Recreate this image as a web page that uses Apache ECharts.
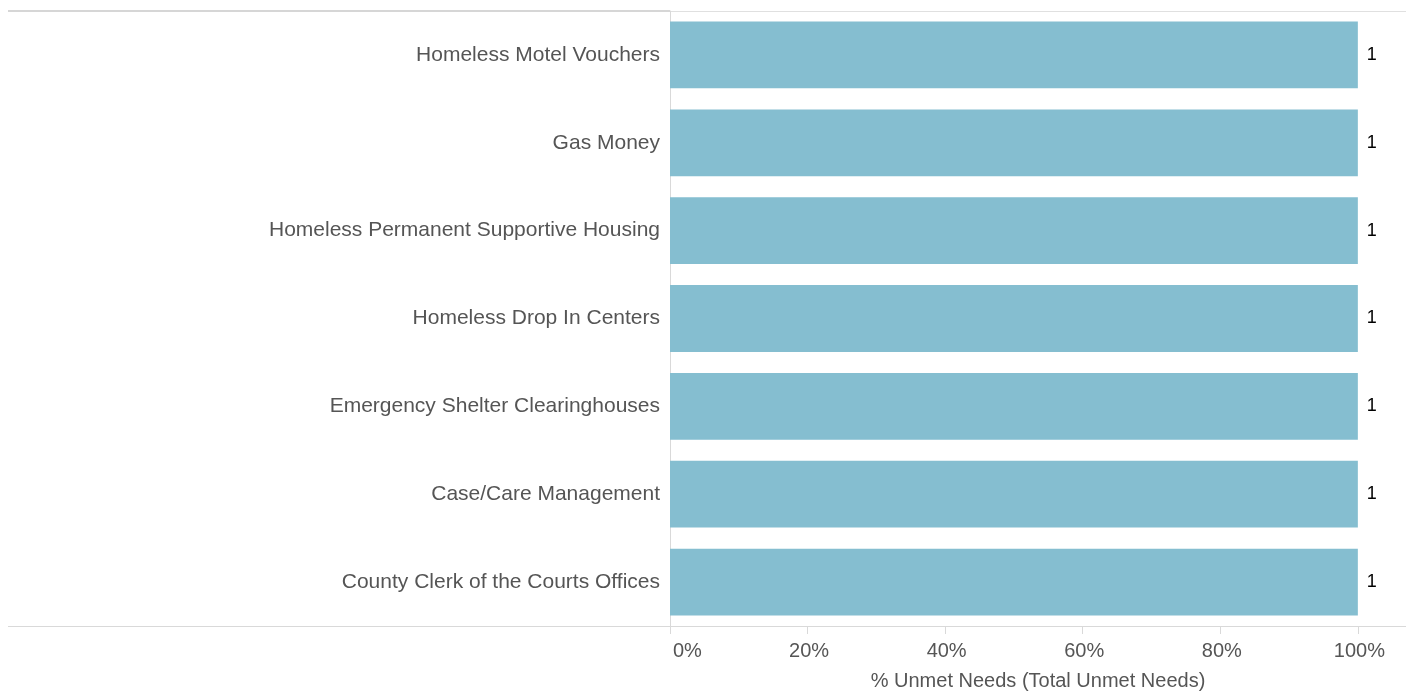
<!DOCTYPE html>
<html>
<head>
<meta charset="utf-8">
<script src="https://cdn.jsdelivr.net/npm/echarts@6/dist/echarts.min.js"></script>
<style>html,body{margin:0;padding:0;background:#fff}#c{width:1406px;height:691px}</style>
</head>
<body>
<div id="c"></div>
<script>
const categories = [
  "Homeless Motel Vouchers",
  "Gas Money",
  "Homeless Permanent Supportive Housing",
  "Homeless Drop In Centers",
  "Emergency Shelter Clearinghouses",
  "Case/Care Management",
  "County Clerk of the Courts Offices"
];
const pctUnmet = [1, 1, 1, 1, 1, 1, 1];
const unmetCounts = [1, 1, 1, 1, 1, 1, 1];
const tickValues = [0, 0.2, 0.4, 0.6, 0.8, 1.0];
const axisName = "% Unmet Needs (Total Unmet Needs)";

const chart = echarts.init(document.getElementById('c'));
const font = "'Liberation Sans', Arial, Helvetica, sans-serif";
chart.setOption({
  animation: false,
  grid: { left: 670, right: 0, top: 11, bottom: 65, containLabel: false, outerBoundsMode: 'none' },
  xAxis: {
    type: 'value', min: 0, max: 1.07,
    splitLine: { show: false },
    axisLine: { show: true, lineStyle: { color: '#d9d9d9', width: 1 } },
    axisTick: { show: true, customValues: tickValues, length: 8, lineStyle: { color: '#d9d9d9' } },
    axisLabel: { customValues: tickValues, alignMinLabel: 'left', formatter: v => Math.round(v * 100) + '%', color: '#555', fontSize: 20, fontFamily: font, margin: 15, padding: [0, 0, 0, 3] },
    name: axisName, nameLocation: 'middle', nameGap: 45,
    nameTextStyle: { color: '#555', fontSize: 20, fontFamily: font }
  },
  yAxis: {
    type: 'category', data: categories, inverse: true,
    axisLine: { show: true, lineStyle: { color: '#d9d9d9' } },
    axisTick: { show: false },
    axisLabel: { color: '#555', fontSize: 21, fontFamily: font, margin: 10 }
  },
  series: [{
    type: 'bar', data: pctUnmet, barCategoryGap: '24%',
    itemStyle: { color: '#85bed0' },
    label: { show: true, position: 'right', distance: 9, color: '#000', fontSize: 18, fontFamily: font,
      formatter: p => String(unmetCounts[p.dataIndex]) }
  }],
  graphic: [
    { type: 'line', shape: { x1: 8, y1: 11, x2: 670, y2: 11 }, style: { stroke: '#d6d6d6', lineWidth: 2 } },
    { type: 'line', shape: { x1: 670, y1: 11.5, x2: 1406, y2: 11.5 }, style: { stroke: '#e0e0e0', lineWidth: 1 } },
    { type: 'line', shape: { x1: 8, y1: 626.5, x2: 670, y2: 626.5 }, style: { stroke: '#d9d9d9', lineWidth: 1 } }
  ]
});
</script>
</body>
</html>
